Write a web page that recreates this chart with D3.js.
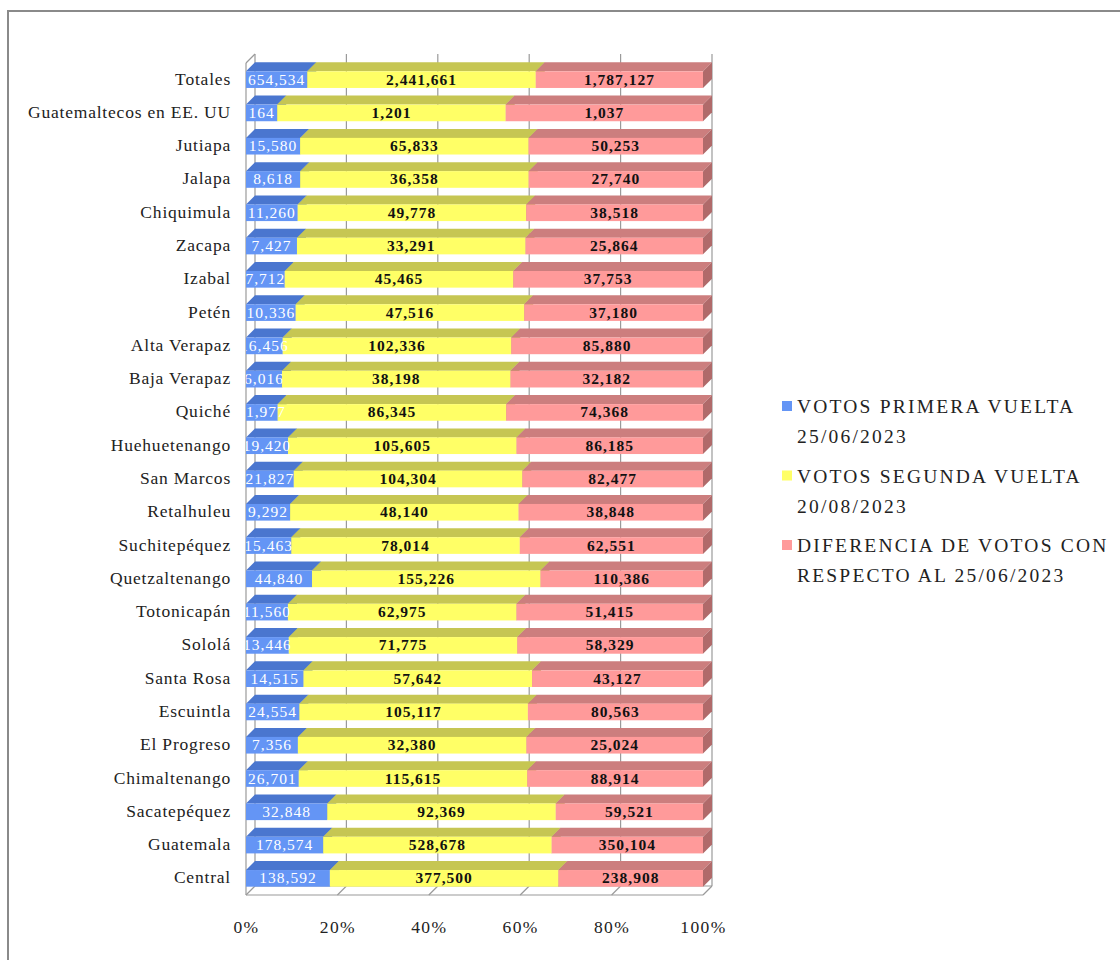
<!DOCTYPE html>
<html>
<head>
<meta charset="utf-8">
<script src="https://cdn.jsdelivr.net/npm/d3@7"></script>
<style>
  html, body { margin: 0; padding: 0; background: #fff; }
  svg { display: block; }
  text { font-family: "Liberation Serif", "DejaVu Serif", serif; }
</style>
</head>
<body>
<svg id="chart" width="1120" height="960"></svg>
<script>
const categories = ["Totales","Guatemaltecos en EE. UU","Jutiapa","Jalapa","Chiquimula","Zacapa","Izabal","Petén","Alta Verapaz","Baja Verapaz","Quiché","Huehuetenango","San Marcos","Retalhuleu","Suchitepéquez","Quetzaltenango","Totonicapán","Sololá","Santa Rosa","Escuintla","El Progreso","Chimaltenango","Sacatepéquez","Guatemala","Central"];
const primeraVuelta = [654534,164,15580,8618,11260,7427,7712,10336,16456,6016,11977,19420,21827,9292,15463,44840,11560,13446,14515,24554,7356,26701,32848,178574,138592];
const segundaVuelta = [2441661,1201,65833,36358,49778,33291,45465,47516,102336,38198,86345,105605,104304,48140,78014,155226,62975,71775,57642,105117,32380,115615,92369,528678,377500];
const diferencia = [1787127,1037,50253,27740,38518,25864,37753,37180,85880,32182,74368,86185,82477,38848,62551,110386,51415,58329,43127,80563,25024,88914,59521,350104,238908];
const seriesNames = [["VOTOS PRIMERA VUELTA","25/06/2023"],["VOTOS SEGUNDA VUELTA","20/08/2023"],["DIFERENCIA DE VOTOS CON","RESPECTO AL 25/06/2023"]];
const tickValues = [0,0.2,0.4,0.6,0.8,1];

const frontColor = ["#6495f5","#ffff66","#ff9a9a"];
const topColor = ["#4a76cf","#c6c653","#cc7e7e"];
const sideColor = ["#3f68b5","#a8a840","#b06a6a"];
const labelColor = ["#ffffff","#111111","#111111"];

const svg = d3.select("#chart");
const D = 9; // 3D depth
const x = d3.scaleLinear().domain([0,1]).range([246,703]);
const y = d3.scaleBand().domain(categories).range([63,895]).paddingInner(0.5).paddingOuter(0.25);
const y0 = 63, y1 = 895;

// outer frame
svg.append("rect").attr("x",8).attr("y",11).attr("width",1200).attr("height",1000)
  .attr("fill","none").attr("stroke","#8a8a8a").attr("stroke-width",2);

const walls = svg.append("g").attr("stroke","#9a9a9a").attr("fill","none").attr("stroke-width",1.2);
walls.selectAll("line.grid").data(tickValues).join("line").attr("class","grid")
  .attr("x1",d=>x(d)+D).attr("x2",d=>x(d)+D).attr("y1",y0-D).attr("y2",y1-D);
walls.append("line").attr("x1",x(0)).attr("x2",x(0)).attr("y1",y0).attr("y2",y1);
walls.append("line").attr("x1",x(0)).attr("x2",x(0)+D).attr("y1",y0).attr("y2",y0-D);
walls.append("line").attr("x1",x(0)).attr("x2",x(1)).attr("y1",y1).attr("y2",y1);
walls.append("line").attr("x1",x(0)+D).attr("x2",x(1)+D).attr("y1",y1-D).attr("y2",y1-D);
walls.selectAll("line.ft").data(tickValues).join("line").attr("class","ft")
  .attr("x1",d=>x(d)).attr("x2",d=>x(d)+D).attr("y1",y1).attr("y2",y1-D);

const rows = categories.map((c,i)=>{
  const vals=[primeraVuelta[i],segundaVuelta[i],diferencia[i]];
  const tot=d3.sum(vals);
  let acc=0;
  return vals.map((v,k)=>{const s={cat:c,k,v,a:acc/tot,b:(acc+v)/tot}; acc+=v; return s;});
});

const bars = svg.append("g");
rows.forEach(segs=>{
  const g = bars.append("g");
  segs.forEach(s=>{
    const xa=x(s.a), xb=x(s.b), yt=y(s.cat), yb=yt+y.bandwidth();
    g.append("path").attr("d",`M${xa},${yt}L${xa+D},${yt-D}L${xb+D},${yt-D}L${xb},${yt}Z`).attr("fill",topColor[s.k]);
    g.append("path").attr("d",`M${xb},${yt}L${xb+D},${yt-D}L${xb+D},${yb-D}L${xb},${yb}Z`).attr("fill",sideColor[s.k]);
    g.append("rect").attr("x",xa).attr("y",yt).attr("width",xb-xa).attr("height",yb-yt).attr("fill",frontColor[s.k]);
  });
});

svg.append("clipPath").attr("id","plotclip").append("rect")
  .attr("x",x(0)).attr("y",0).attr("width",x(1)-x(0)+D+2).attr("height",960);
const labels = svg.append("g").attr("clip-path","url(#plotclip)");
rows.flat().forEach(s=>{
  labels.append("text")
    .attr("x",(x(s.a)+x(s.b))/2)
    .attr("y",y(s.cat)+y.bandwidth()/2+5)
    .attr("text-anchor","middle")
    .attr("font-size",15.5)
    .attr("font-weight",s.k===0?"normal":"bold")
    .attr("letter-spacing",1)
    .attr("fill",labelColor[s.k])
    .text(d3.format(",")(s.v));
});

svg.append("g").selectAll("text").data(categories).join("text")
  .attr("x",231).attr("y",d=>y(d)+y.bandwidth()/2+5)
  .attr("text-anchor","end").attr("font-size",17.5).attr("letter-spacing",0.8)
  .attr("fill","#222").text(d=>d);

const xAxis = d3.axisBottom(x).tickValues(tickValues).tickFormat(d3.format(".0%")).tickSize(0).tickPadding(0);
const ax = svg.append("g").attr("transform",`translate(0,${y1+26})`).call(xAxis);
ax.select(".domain").remove();
ax.selectAll("text").attr("font-size",17.5).attr("letter-spacing",1.4)
  .attr("fill","#222").attr("font-family","Liberation Serif, DejaVu Serif, serif");

const leg = svg.append("g").attr("transform","translate(782,401)");
seriesNames.forEach((n,i)=>{
  const g = leg.append("g").attr("transform",`translate(0,${i*69.5})`);
  g.append("rect").attr("width",10).attr("height",10).attr("fill",frontColor[i]);
  n.forEach((line,j)=>{
    g.append("text").attr("x",15).attr("y",12+j*30).attr("font-size",19.5)
      .attr("letter-spacing",2.2).attr("fill","#222").text(line);
  });
});
</script>
</body>
</html>
